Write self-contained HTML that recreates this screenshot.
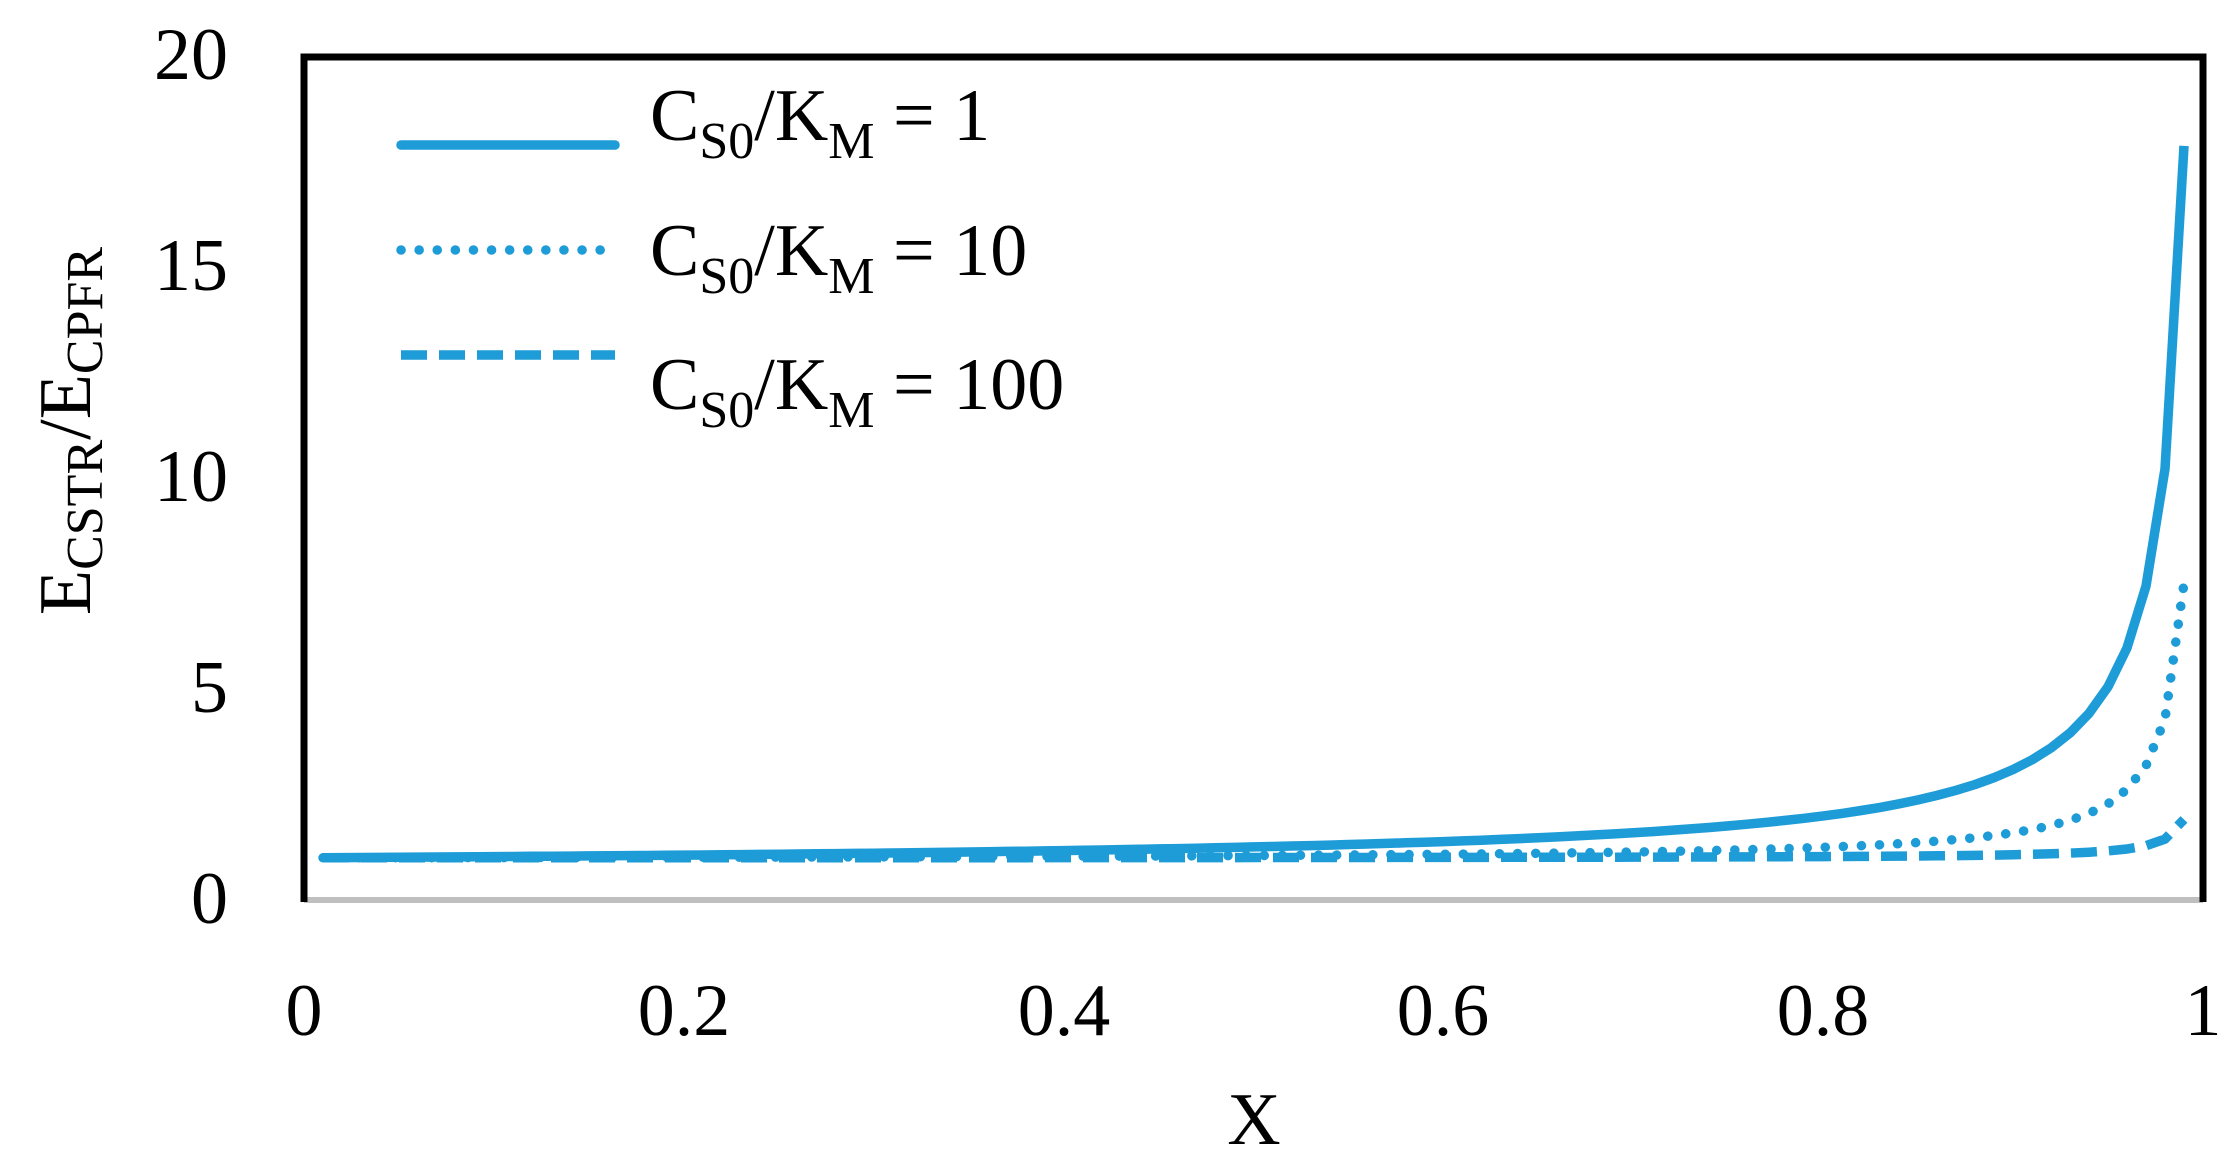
<!DOCTYPE html>
<html><head><meta charset="utf-8"><style>
html,body{margin:0;padding:0;background:#fff;}
svg{display:block;}
text{font-family:"Liberation Serif",serif;fill:#000;}
</style></head><body>
<svg id="s" width="2237" height="1175" viewBox="0 0 2237 1175" xmlns="http://www.w3.org/2000/svg">
<rect width="2237" height="1175" fill="#fff"/>
<g id="curves" fill="none" stroke="#1e9cd7" stroke-width="9.5" stroke-linejoin="round"></g>
<line x1="304" y1="900" x2="2203" y2="900" stroke="#bfbfbf" stroke-width="6"/>
<polyline points="304,902 304,57 2203,57 2203,902" fill="none" stroke="#000" stroke-width="7"/>
<g font-size="74" text-anchor="end">
<text x="228" y="79">20</text>
<text x="228" y="290">15</text>
<text x="228" y="501">10</text>
<text x="228" y="712">5</text>
<text x="228" y="923">0</text>
</g>
<g font-size="74" text-anchor="middle">
<text x="304" y="1035">0</text>
<text x="684" y="1035">0.2</text>
<text x="1064" y="1035">0.4</text>
<text x="1443" y="1035">0.6</text>
<text x="1823" y="1035">0.8</text>
<text x="2203" y="1035">1</text>
<text x="1254" y="1144">X</text>
</g>
<text transform="translate(90,431) rotate(-90)" font-size="74" text-anchor="middle">E<tspan font-size="52" dy="12">CSTR</tspan><tspan dy="-12">/E</tspan><tspan font-size="52" dy="12">CPFR</tspan></text>
<g stroke="#1e9cd7" stroke-width="9.5" fill="none">
<line x1="401" y1="145" x2="615" y2="145" stroke-linecap="round"/>
<line x1="401" y1="250" x2="615" y2="250" stroke-linecap="round" stroke-dasharray="0.1 18"/>
<line x1="401" y1="355" x2="615" y2="355" stroke-dasharray="26 12"/>
</g>
<g font-size="74">
<text x="650" y="140">C<tspan font-size="52" dy="18">S0</tspan><tspan dy="-18">/K</tspan><tspan font-size="52" dy="18">M</tspan><tspan dy="-18"> = 1</tspan></text>
<text x="650" y="275">C<tspan font-size="52" dy="18">S0</tspan><tspan dy="-18">/K</tspan><tspan font-size="52" dy="18">M</tspan><tspan dy="-18"> = 10</tspan></text>
<text x="650" y="409">C<tspan font-size="52" dy="18">S0</tspan><tspan dy="-18">/K</tspan><tspan font-size="52" dy="18">M</tspan><tspan dy="-18"> = 100</tspan></text>
</g>
</svg>
<script>
(function(){
var g=document.getElementById('curves');
var specs=[[100,'26 12'],[10,'0.1 18'],[1,'']];
specs.forEach(function(s){
  var a=s[0],pts=[];
  for(var i=1;i<=99;i++){
    var X=i/100;
    var r=(a*X+X/(1-X))/(a*X-Math.log(1-X));
    var px=304+X*1899, py=900-r*42.2;
    pts.push(px.toFixed(1)+','+py.toFixed(1));
  }
  var p=document.createElementNS('http://www.w3.org/2000/svg','polyline');
  p.setAttribute('points',pts.join(' '));
  if(s[1]){p.setAttribute('stroke-dasharray',s[1]);}
  if(a==10){p.setAttribute('stroke-linecap','round');}
  g.appendChild(p);
});
})();
</script>
</body></html>
